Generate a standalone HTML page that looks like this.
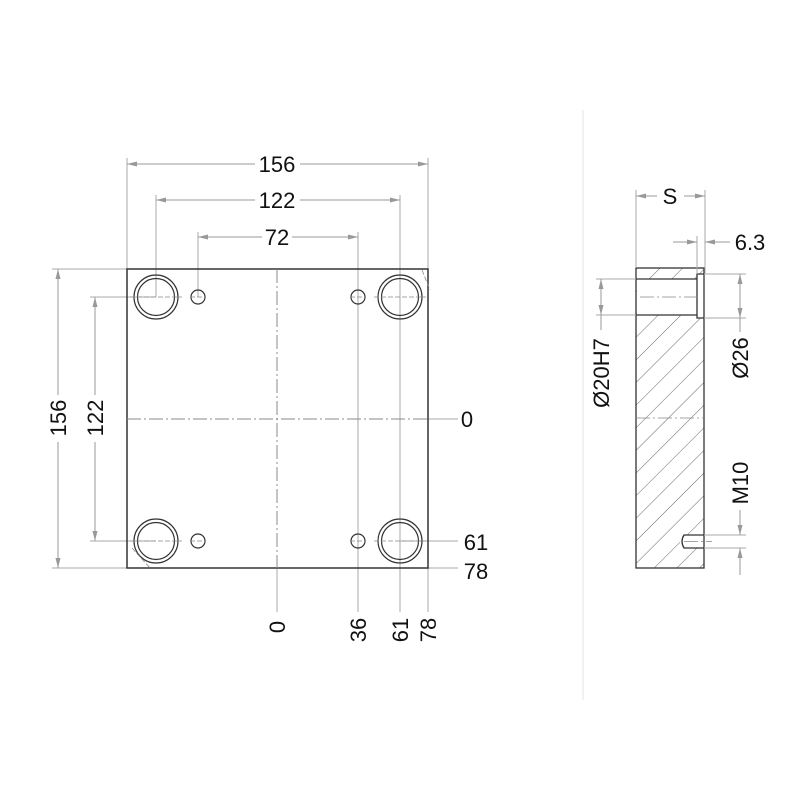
<!DOCTYPE html>
<html><head><style>html,body{margin:0;padding:0;background:#fff}svg{display:block}</style></head><body>
<svg width="800" height="800" viewBox="0 0 800 800" xmlns="http://www.w3.org/2000/svg" font-family="Liberation Sans, sans-serif">
<defs>
<marker id="a" viewBox="0 0 10 6" refX="10" refY="3" markerWidth="10" markerHeight="6" orient="auto-start-reverse" markerUnits="userSpaceOnUse"><path d="M0,0.5 L10,3 L0,5.5z" fill="#999"/></marker>
<pattern id="h" patternUnits="userSpaceOnUse" width="16" height="16" patternTransform="rotate(45)"><line x1="0" y1="0" x2="0" y2="16" stroke="#555" stroke-width="0.9"/></pattern>
</defs>
<rect width="800" height="800" fill="#fff"/>
<line x1="583" y1="110" x2="583" y2="700" stroke="#e4e4e4" stroke-width="1"/>
<g stroke="#aaa" stroke-width="1" fill="none">
<line x1="127" y1="158" x2="127" y2="269"/><line x1="428" y1="158" x2="428" y2="612"/>
<line x1="156" y1="195" x2="156" y2="297"/><line x1="400" y1="195" x2="400" y2="612"/>
<line x1="198" y1="232" x2="198" y2="297"/><line x1="358" y1="232" x2="358" y2="612"/>
<line x1="277" y1="569" x2="277" y2="612"/>
<line x1="52" y1="269" x2="127" y2="269"/><line x1="52" y1="568" x2="127" y2="568"/>
<line x1="90" y1="297" x2="156" y2="297"/><line x1="90" y1="541" x2="156" y2="541"/>
<line x1="428" y1="419" x2="458" y2="419"/><line x1="400" y1="541" x2="458" y2="541"/><line x1="428" y1="568" x2="458" y2="568"/>
</g>
<g stroke="#999" stroke-width="1" fill="none">
<line x1="127" y1="164" x2="255" y2="164" marker-start="url(#a)"/><line x1="300" y1="164" x2="428" y2="164" marker-end="url(#a)"/>
<line x1="156" y1="200" x2="255" y2="200" marker-start="url(#a)"/><line x1="300" y1="200" x2="400" y2="200" marker-end="url(#a)"/>
<line x1="198" y1="237" x2="262" y2="237" marker-start="url(#a)"/><line x1="292" y1="237" x2="358" y2="237" marker-end="url(#a)"/>
<line x1="58" y1="269" x2="58" y2="395" marker-start="url(#a)"/><line x1="58" y1="442" x2="58" y2="568" marker-end="url(#a)"/>
<line x1="95" y1="297" x2="95" y2="395" marker-start="url(#a)"/><line x1="95" y1="442" x2="95" y2="541" marker-end="url(#a)"/>
</g>
<g font-size="22" fill="#111" text-anchor="middle">
<text x="277" y="172">156</text><text x="277" y="208">122</text><text x="277" y="245">72</text>
<text transform="translate(66,418) rotate(-90)">156</text>
<text transform="translate(103,418) rotate(-90)">122</text>
<text x="467" y="427">0</text>
<text x="476" y="550">61</text>
<text x="476" y="579">78</text>
<text transform="translate(285,627) rotate(-90)">0</text>
<text transform="translate(366,630) rotate(-90)">36</text>
<text transform="translate(408,630) rotate(-90)">61</text>
<text transform="translate(436,630) rotate(-90)">78</text>
</g>
<rect x="127" y="269" width="301" height="299" fill="none" stroke="#333" stroke-width="1.5"/>
<g stroke="#888" stroke-width="1" stroke-dasharray="14,3,2,3" fill="none">
<line x1="277" y1="269" x2="277" y2="568"/><line x1="127" y1="419" x2="428" y2="419"/>
</g>
<g fill="none" stroke="#333" stroke-width="1.2">
<circle cx="156" cy="297" r="22"/><circle cx="156" cy="297" r="18.5"/>
<circle cx="400" cy="297" r="22"/><circle cx="400" cy="297" r="18.5"/>
<circle cx="156" cy="541" r="22"/><circle cx="156" cy="541" r="18.5"/>
<circle cx="400" cy="541" r="22"/><circle cx="400" cy="541" r="18.5"/>
<circle cx="198" cy="297" r="7"/><circle cx="358" cy="297" r="7"/>
<circle cx="198" cy="541" r="7"/><circle cx="358" cy="541" r="7"/>
</g>
<g stroke="#888" stroke-width="0.8" stroke-dasharray="5,2">
<line x1="130" y1="297" x2="182" y2="297"/><line x1="374" y1="297" x2="426" y2="297"/>
<line x1="130" y1="541" x2="182" y2="541"/><line x1="374" y1="541" x2="426" y2="541"/>
<line x1="190" y1="297" x2="206" y2="297"/><line x1="350" y1="297" x2="366" y2="297"/>
<line x1="190" y1="541" x2="206" y2="541"/><line x1="350" y1="541" x2="366" y2="541"/>
<line x1="422" y1="270" x2="430" y2="290" /><line x1="132" y1="548" x2="150" y2="568"/>
</g>
<rect x="636" y="268" width="68" height="300" fill="url(#h)"/>
<rect x="637" y="279" width="60" height="36" fill="#fff"/>
<rect x="697" y="274" width="7" height="44" fill="#fff"/>
<rect x="680" y="535" width="24" height="13" fill="#fff"/>
<g fill="none" stroke="#333" stroke-width="1.3">
<rect x="636" y="268" width="68" height="300"/>
<line x1="636" y1="279" x2="697" y2="279"/><line x1="636" y1="315" x2="697" y2="315"/>
<path d="M704 274 H697 V318 H704"/>
<path d="M704 535 H684 Q680 541.5 684 548 H704"/>
</g>
<g stroke="#888" stroke-width="0.8" stroke-dasharray="14,3,2,3">
<line x1="640" y1="297" x2="700" y2="297"/><line x1="636" y1="418" x2="704" y2="418"/>
<line x1="684" y1="541.5" x2="712" y2="541.5"/>
</g>
<g stroke="#aaa" stroke-width="1" fill="none">
<line x1="636" y1="190" x2="636" y2="268"/><line x1="705" y1="190" x2="705" y2="274"/>
<line x1="697" y1="236" x2="697" y2="274"/>
<line x1="596" y1="279" x2="636" y2="279"/><line x1="596" y1="315" x2="636" y2="315"/>
<line x1="704" y1="274" x2="746" y2="274"/><line x1="704" y1="318" x2="746" y2="318"/>
<line x1="704" y1="535" x2="746" y2="535"/><line x1="704" y1="548" x2="746" y2="548"/>
</g>
<g stroke="#999" stroke-width="1" fill="none">
<line x1="636" y1="196" x2="657" y2="196" marker-start="url(#a)"/><line x1="684" y1="196" x2="705" y2="196" marker-end="url(#a)"/>
<line x1="673" y1="242" x2="697" y2="242" marker-end="url(#a)"/><line x1="730" y1="242" x2="705" y2="242" marker-end="url(#a)"/>
<line x1="601" y1="279" x2="601" y2="315" marker-start="url(#a)" marker-end="url(#a)"/><line x1="601" y1="315" x2="601" y2="330"/>
<line x1="740" y1="274" x2="740" y2="318" marker-start="url(#a)" marker-end="url(#a)"/><line x1="740" y1="318" x2="740" y2="332"/>
<line x1="740" y1="510" x2="740" y2="535" marker-end="url(#a)"/><line x1="740" y1="575" x2="740" y2="548" marker-end="url(#a)"/>
</g>
<g font-size="22" fill="#111" text-anchor="middle">
<text x="670" y="204">S</text>
<text x="750" y="250">6.3</text>
<text transform="translate(609,373) rotate(-90)">Ø20H7</text>
<text transform="translate(748,358) rotate(-90)">Ø26</text>
<text transform="translate(748,483) rotate(-90)">M10</text>
</g>
</svg>
</body></html>
